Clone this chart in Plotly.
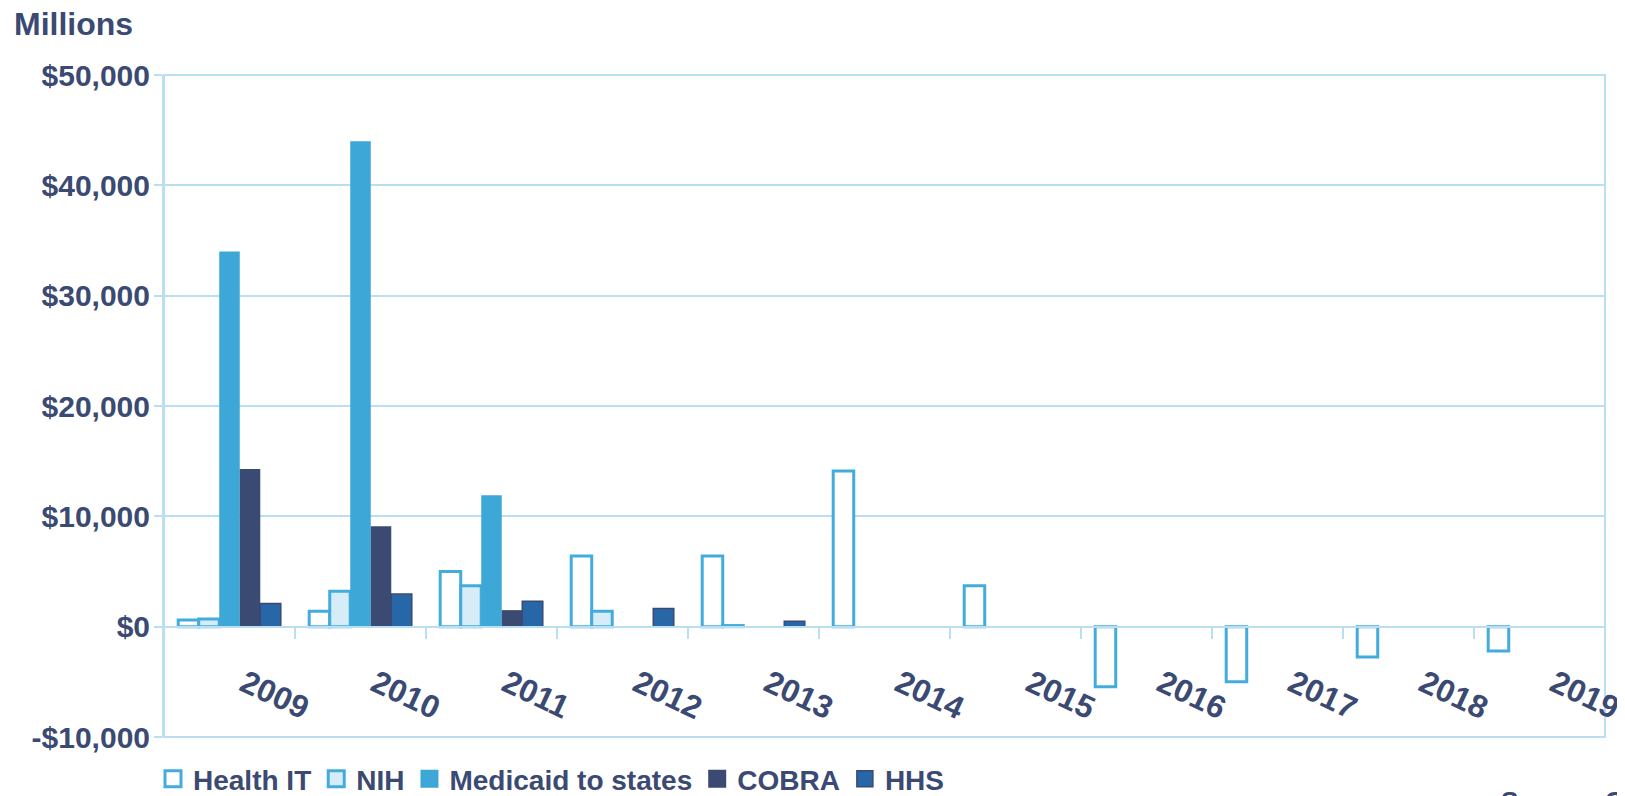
import plotly.graph_objects as go

years = ["2009", "2010", "2011", "2012", "2013", "2014", "2015", "2016", "2017", "2018", "2019"]
health_it = [600, 1400, 5000, 6400, 6400, 14100, 3700, -5450, -5000, -2750, -2200]
nih = [700, 3200, 3700, 1400, 100, None, None, None, None, None, None]
medicaid = [34000, 44000, 11900, None, None, None, None, None, None, None, None]
cobra = [14300, 9100, 1500, None, None, None, None, None, None, None, None]
hhs = [2100, 2950, 2300, 1650, 500, None, None, None, None, None, None]

y_ticks = [-10000, 0, 10000, 20000, 30000, 40000, 50000]
y_ticktext = [("-$" if v < 0 else "$") + f"{abs(v):,}" for v in y_ticks]

NAVY = "#3A4A72"
GRID = "#B9DFF1"
FONT = "Liberation Sans, Arial, sans-serif"

series = [
    ("Health IT", health_it, "#FFFFFF", "#43ACDD", 3),
    ("NIH", nih, "#D6ECF6", "#43ACDD", 3),
    ("Medicaid to states", medicaid, "#3DA7D7", "#3DA7D7", 0),
    ("COBRA", cobra, "#3A4A72", "#3A4A72", 0),
    ("HHS", hhs, "#2767A8", "#3A4A72", 1.5),
]

fig = go.Figure()
for name, vals, fill, line, lw in series:
    fig.add_trace(go.Bar(x=years, y=vals, name=name, showlegend=False,
                         marker=dict(color=fill, line=dict(color=line, width=lw))))
# legend proxies
for name, vals, fill, line, lw in series:
    fig.add_trace(go.Scatter(x=[None], y=[None], mode="markers", name=name,
                             marker=dict(symbol="square", size=16,
                                         color=fill,
                                         line=dict(color=line, width=lw if lw else 2))))

ymin, ymax = y_ticks[0], y_ticks[-1]

# page is rendered with an 8px body margin; figure sized to fit the window
W, H = 1617, 788
L, T, R, B = 156, 67, 20, 59
PW, PH = W - L - R, H - T - B

fig.update_layout(
    width=W, height=H,
    margin=dict(l=L, r=R, t=T, b=B, autoexpand=False),
    paper_bgcolor="white", plot_bgcolor="white",
    font=dict(family=FONT, size=28, color=NAVY, weight="bold"),
    barmode="group", bargap=0.217, bargroupgap=0,
    showlegend=True,
    legend=dict(orientation="h", x=(145 - L) / PW, xanchor="left", y=-17 / PH, yanchor="top",
                font=dict(size=28, color=NAVY, family=FONT, weight="bold"),
                bgcolor="rgba(0,0,0,0)", itemsizing="trace"),
    xaxis=dict(type="category", categoryorder="array", categoryarray=years,
               anchor="free", position=(0 - ymin) / (ymax - ymin), automargin=False,
               showline=True, linecolor=GRID, linewidth=2,
               ticks="outside", tickson="boundaries", ticklen=11, tickwidth=2, tickcolor=GRID,
               tickangle=25, showgrid=False, zeroline=False,
               ticklabelstandoff=25, ticklabelshift=15,
               tickfont=dict(size=32, color=NAVY, family=FONT, weight="bold")),
    yaxis=dict(range=[ymin, ymax], tickvals=y_ticks, ticktext=y_ticktext, automargin=False,
               showgrid=True, gridcolor=GRID, gridwidth=2, zeroline=False,
               showline=True, linecolor=GRID, linewidth=2,
               ticks="outside", ticklen=8, tickwidth=2, tickcolor=GRID,
               ticklabelstandoff=-2,
               tickfont=dict(size=30, color=NAVY, family=FONT, weight="bold")),
    shapes=[dict(type="rect", xref="paper", yref="paper", x0=0, x1=1, y0=0, y1=1,
                 line=dict(color=GRID, width=2), layer="below")],
    annotations=[
        dict(text="Millions", xref="paper", yref="paper", x=(5 - L) / PW, xanchor="left",
             y=(H - B - 16) / PH, yanchor="middle", showarrow=False, borderpad=0,
             font=dict(size=32, color=NAVY, family=FONT, weight="bold")),
        dict(text="Source: CBO", xref="paper", yref="paper", x=(1492 - L) / PW, xanchor="left",
             y=-(777 - (H - B)) / PH, yanchor="top", showarrow=False, borderpad=0,
             font=dict(size=26, color=NAVY, family=FONT, weight="bold")),
    ],
)

fig.write_html("out.html")
